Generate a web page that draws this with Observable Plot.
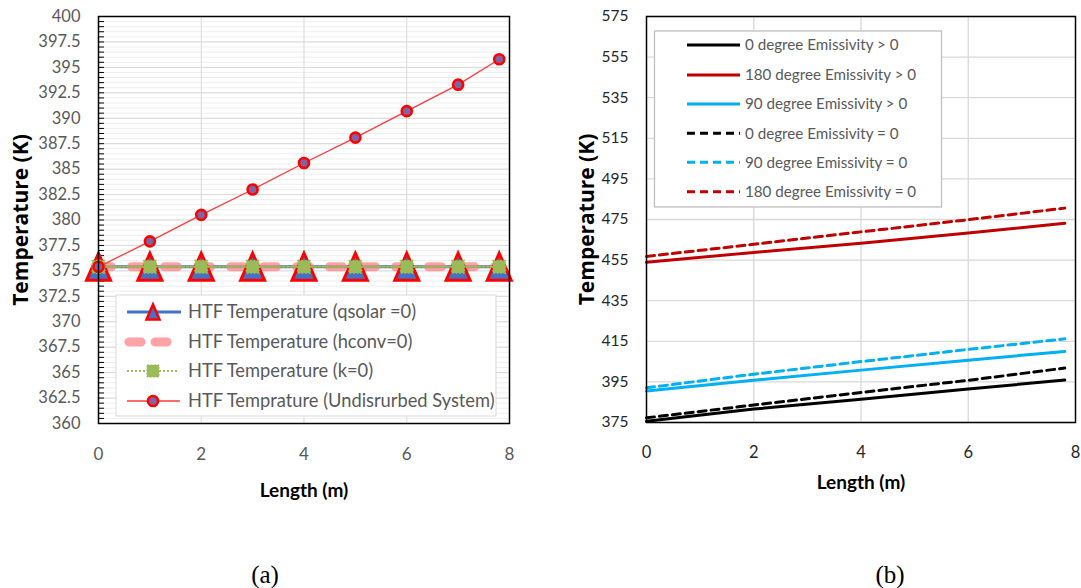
<!DOCTYPE html>
<html>
<head>
<meta charset="utf-8">
<script src="https://cdn.jsdelivr.net/npm/d3@7"></script>
<script src="https://cdn.jsdelivr.net/npm/@observablehq/plot@0.6"></script>
<style>
  html, body { margin: 0; padding: 0; background: #fff; }
  #fig { position: relative; width: 1081px; height: 588px; overflow: hidden; background: #fff; }
  .panel { position: absolute; top: 0; }
  .cap { position: absolute; top: 562px; font-family: "Liberation Serif", "Times New Roman", serif;
         font-size: 25px; line-height: 1; transform: translateX(-50%); color: #000; }
</style>
</head>
<body>
<div id="fig">
  <div id="pa" class="panel" style="left:0px"></div>
  <div id="pb" class="panel" style="left:560px"></div>
  <div class="cap" style="left:265px">(a)</div>
  <div class="cap" style="left:890px">(b)</div>
</div>
<script>
// ---------- Panel (a): HTF temperature along the receiver, disturbance cases ----------
const lengthA = [0, 1, 2, 3, 4, 5, 6, 7, 7.8];
const htfQsolar0 = [375.4, 375.4, 375.4, 375.4, 375.4, 375.4, 375.4, 375.4, 375.4];
const htfHconv0 = [375.4, 375.4, 375.4, 375.4, 375.4, 375.4, 375.4, 375.4, 375.4];
const htfK0 = [375.4, 375.4, 375.4, 375.4, 375.4, 375.4, 375.4, 375.4, 375.4];
const htfUndisturbed = [375.4, 377.9, 380.5, 383.0, 385.6, 388.1, 390.7, 393.3, 395.8];
const legendA = [
  "HTF Temperature (qsolar =0)",
  "HTF Temperature (hconv=0)",
  "HTF Temperature (k=0)",
  "HTF Temprature (Undisrurbed System)"
];
const xTicksA = [0, 2, 4, 6, 8];
const yTicksA = d3.range(360, 400.001, 2.5);
const yMinorA = d3.range(360, 400.001, 0.5);

// ---------- Panel (b): HTF temperature for tilt angle / emissivity cases ----------
const lengthB = [0, 2, 4, 6, 7.8];
const deg0Emis = [375.6, 381.6, 386.5, 391.5, 395.9];
const deg180Emis = [453.9, 458.8, 463.3, 468.3, 473.1];
const deg90Emis = [390.5, 395.8, 400.8, 405.7, 410.0];
const deg0NoEmis = [377.3, 383.6, 389.8, 395.8, 401.8];
const deg90NoEmis = [392.1, 398.8, 405.0, 411.0, 416.2];
const deg180NoEmis = [456.8, 462.8, 468.9, 474.9, 480.6];
const legendB = [
  "0 degree Emissivity > 0",
  "180 degree Emissivity > 0",
  "90 degree Emissivity > 0",
  "0 degree Emissivity = 0",
  "90 degree Emissivity = 0",
  "180 degree Emissivity = 0"
];
const xTicksB = [0, 2, 4, 6, 8];
const yTicksB = d3.range(375, 575.001, 20);

// Excel-style triangle marker, centred on its bounding box
const triangleMarker = {
  draw(ctx, size) {
    const r = Math.sqrt(size / Math.PI);
    ctx.moveTo(0, -1.35 * r);
    ctx.lineTo(1.2 * r, 1.35 * r);
    ctx.lineTo(-1.2 * r, 1.35 * r);
    ctx.closePath();
  }
};

const rowsA = lengthA.map((x, i) => ({
  x, qsolar: htfQsolar0[i], hconv: htfHconv0[i], k: htfK0[i], und: htfUndisturbed[i]
}));

const C_BLUE = "#4472C4", C_PINK = "#FF7C80", C_GREEN = "#9BBB59", C_RED = "#FF0000", C_PURPLE = "#8064A2";

const titleFont = {fontFamily: "'Open Sans', sans-serif", fontWeight: 700, fontSize: 21, fill: "#000"};
const xTitleFont = {fontFamily: "Lato, sans-serif", fontWeight: 700, fontSize: 19, fill: "#000"};

const plotA = Plot.plot({
  width: 540, height: 510,
  marginLeft: 98, marginRight: 31, marginTop: 16, marginBottom: 87,
  x: {domain: [0, 8]},
  y: {domain: [360, 400]},
  style: {fontFamily: "Lato, sans-serif", fontSize: "16.5px", color: "#595959", background: "transparent", overflow: "visible"},
  marks: [
    Plot.ruleY(yMinorA, {stroke: "#eeeeee", strokeWidth: 1}),
    Plot.ruleY(yTicksA, {stroke: "#d9d9d9", strokeWidth: 1}),
    Plot.ruleX([2, 4, 6], {stroke: "#d9d9d9", strokeWidth: 1}),
    // inward minor tick marks on the value axis
    Plot.ruleY(yMinorA, {stroke: "#000", strokeWidth: 1, insetRight: 405}),
    Plot.axisY({ticks: yTicksA, tickSize: 0, tickPadding: 18, tickFormat: d => String(d), label: null, fill: "#595959"}),
    Plot.axisX({ticks: xTicksA, tickSize: 0, tickPadding: 24, tickFormat: d => String(d), label: null, fill: "#595959", fontSize: "17px"}),
    // series
    Plot.line(rowsA, {x: "x", y: "qsolar", stroke: C_BLUE, strokeWidth: 3}),
    Plot.line(rowsA, {x: "x", y: "hconv", stroke: C_PINK, strokeOpacity: 0.7, strokeWidth: 9, strokeDasharray: "13,20", strokeLinecap: "round"}),
    Plot.dot(rowsA, {x: "x", y: "qsolar", symbol: triangleMarker, r: 10, fill: C_BLUE, stroke: C_RED, strokeWidth: 3}),
    Plot.line(rowsA, {x: "x", y: "k", stroke: C_GREEN, strokeWidth: 2, strokeDasharray: "2,2"}),
    Plot.dot(rowsA, {x: "x", y: "k", symbol: "square", r: 7, fill: C_GREEN, stroke: C_GREEN, strokeWidth: 1.5, strokeDasharray: "2,1.5"}),
    Plot.line(rowsA, {x: "x", y: "und", stroke: "#FF3B3B", strokeWidth: 1.3}),
    Plot.dot(rowsA, {x: "x", y: "und", r: 5, fill: C_PURPLE, stroke: C_RED, strokeWidth: 2.6}),
    Plot.frame({stroke: "#000", strokeWidth: 1.5}),
    Plot.text(["Length (m)"], {text: d => d, frameAnchor: "bottom", lineAnchor: "middle", dy: 67, ...xTitleFont}),
    Plot.text(["Temperature (K)"], {text: d => d, frameAnchor: "left", textAnchor: "middle", dx: -77, rotate: -90, ...titleFont})
  ]
});

// legend box inside the plotting area of panel (a)
{
  const g = d3.select(plotA).append("g").attr("font-family", "Lato, sans-serif").attr("font-size", 18.3).attr("text-anchor", "start");
  g.append("rect").attr("x", 116).attr("y", 295).attr("width", 380).attr("height", 121)
    .attr("fill", "#fff").attr("stroke", "#d9d9d9").attr("stroke-width", 1);
  const rowY = [312, 342, 371, 401];
  // qsolar = 0
  g.append("line").attr("x1", 127).attr("x2", 181).attr("y1", rowY[0]).attr("y2", rowY[0]).attr("stroke", C_BLUE).attr("stroke-width", 3);
  g.append("path").attr("transform", `translate(153,${rowY[0]})`).attr("d", "M0,-7.5L6.5,7.5L-6.5,7.5Z")
    .attr("fill", C_BLUE).attr("stroke", C_RED).attr("stroke-width", 2.5);
  // hconv = 0
  g.append("line").attr("x1", 129).attr("x2", 168).attr("y1", rowY[1]).attr("y2", rowY[1]).attr("stroke", C_PINK)
    .attr("stroke-opacity", 0.7).attr("stroke-width", 9).attr("stroke-dasharray", "12,14").attr("stroke-linecap", "round");
  // k = 0
  g.append("line").attr("x1", 127).attr("x2", 177).attr("y1", rowY[2]).attr("y2", rowY[2]).attr("stroke", C_GREEN)
    .attr("stroke-width", 2).attr("stroke-dasharray", "2,2");
  g.append("rect").attr("x", 147).attr("y", rowY[2] - 6).attr("width", 12).attr("height", 12).attr("fill", C_GREEN)
    .attr("stroke", C_GREEN).attr("stroke-dasharray", "2,1.5");
  // undisturbed
  g.append("line").attr("x1", 127).attr("x2", 180).attr("y1", rowY[3]).attr("y2", rowY[3]).attr("stroke", "#FF3B3B").attr("stroke-width", 1.3);
  g.append("circle").attr("cx", 153).attr("cy", rowY[3]).attr("r", 5).attr("fill", C_PURPLE).attr("stroke", C_RED).attr("stroke-width", 2.6);
  legendA.forEach((t, i) => {
    g.append("text").attr("x", 188).attr("y", rowY[i]).attr("dy", "0.35em").attr("text-anchor", "start").attr("fill", "#595959").text(t);
  });
}
document.getElementById("pa").append(plotA);

// ---------- Panel (b) ----------
const C_BLACK = "#000000", C_DRED = "#C00000", C_SKY = "#00B0F0";
const seriesB = [
  {values: deg0Emis, stroke: C_BLACK, dash: null},
  {values: deg180Emis, stroke: C_DRED, dash: null},
  {values: deg90Emis, stroke: C_SKY, dash: null},
  {values: deg0NoEmis, stroke: C_BLACK, dash: "8,5"},
  {values: deg90NoEmis, stroke: C_SKY, dash: "8,5"},
  {values: deg180NoEmis, stroke: C_DRED, dash: "8,5"}
];

const plotB = Plot.plot({
  width: 521, height: 510,
  marginLeft: 86, marginRight: 6, marginTop: 16, marginBottom: 88,
  x: {domain: [0, 8]},
  y: {domain: [375, 575]},
  style: {fontFamily: "Lato, sans-serif", fontSize: "15.5px", color: "#262626", background: "transparent", overflow: "visible"},
  marks: [
    Plot.ruleY(yTicksB, {stroke: "#d9d9d9", strokeWidth: 1.3}),
    Plot.ruleX([2, 4, 6], {stroke: "#d9d9d9", strokeWidth: 1.3}),
    Plot.axisY({ticks: yTicksB, tickSize: 0, tickPadding: 18, tickFormat: d => String(d), label: null, fill: "#262626"}),
    Plot.axisX({ticks: xTicksB, tickSize: 0, tickPadding: 24, tickFormat: d => String(d), label: null, fill: "#262626", fontSize: "16.5px"}),
    ...seriesB.map(s => Plot.line(lengthB.map((x, i) => ({x, y: s.values[i]})), {
      x: "x", y: "y", stroke: s.stroke, strokeWidth: 3, strokeDasharray: s.dash
    })),
    Plot.frame({stroke: "#000", strokeWidth: 1.5}),
    Plot.text(["Length (m)"], {text: d => d, frameAnchor: "bottom", lineAnchor: "middle", dy: 60, ...xTitleFont}),
    Plot.text(["Temperature (K)"], {text: d => d, frameAnchor: "left", textAnchor: "middle", dx: -59, rotate: -90, ...titleFont})
  ]
});

{
  const g = d3.select(plotB).append("g").attr("font-family", "Lato, sans-serif").attr("font-size", 15.2).attr("text-anchor", "start");
  g.append("rect").attr("x", 94.5).attr("y", 31).attr("width", 287).attr("height", 176)
    .attr("fill", "#fff").attr("stroke", "#bfbfbf").attr("stroke-width", 1.3);
  const rowY = [45, 75, 104, 133.3, 162.3, 191.7];
  seriesB.forEach((s, i) => {
    g.append("line").attr("x1", 127).attr("x2", 180).attr("y1", rowY[i]).attr("y2", rowY[i])
      .attr("stroke", s.stroke).attr("stroke-width", 3).attr("stroke-dasharray", s.dash);
    g.append("text").attr("x", 185).attr("y", rowY[i]).attr("dy", "0.35em").attr("text-anchor", "start").attr("fill", "#595959").text(legendB[i]);
  });
}
document.getElementById("pb").append(plotB);
</script>
</body>
</html>
